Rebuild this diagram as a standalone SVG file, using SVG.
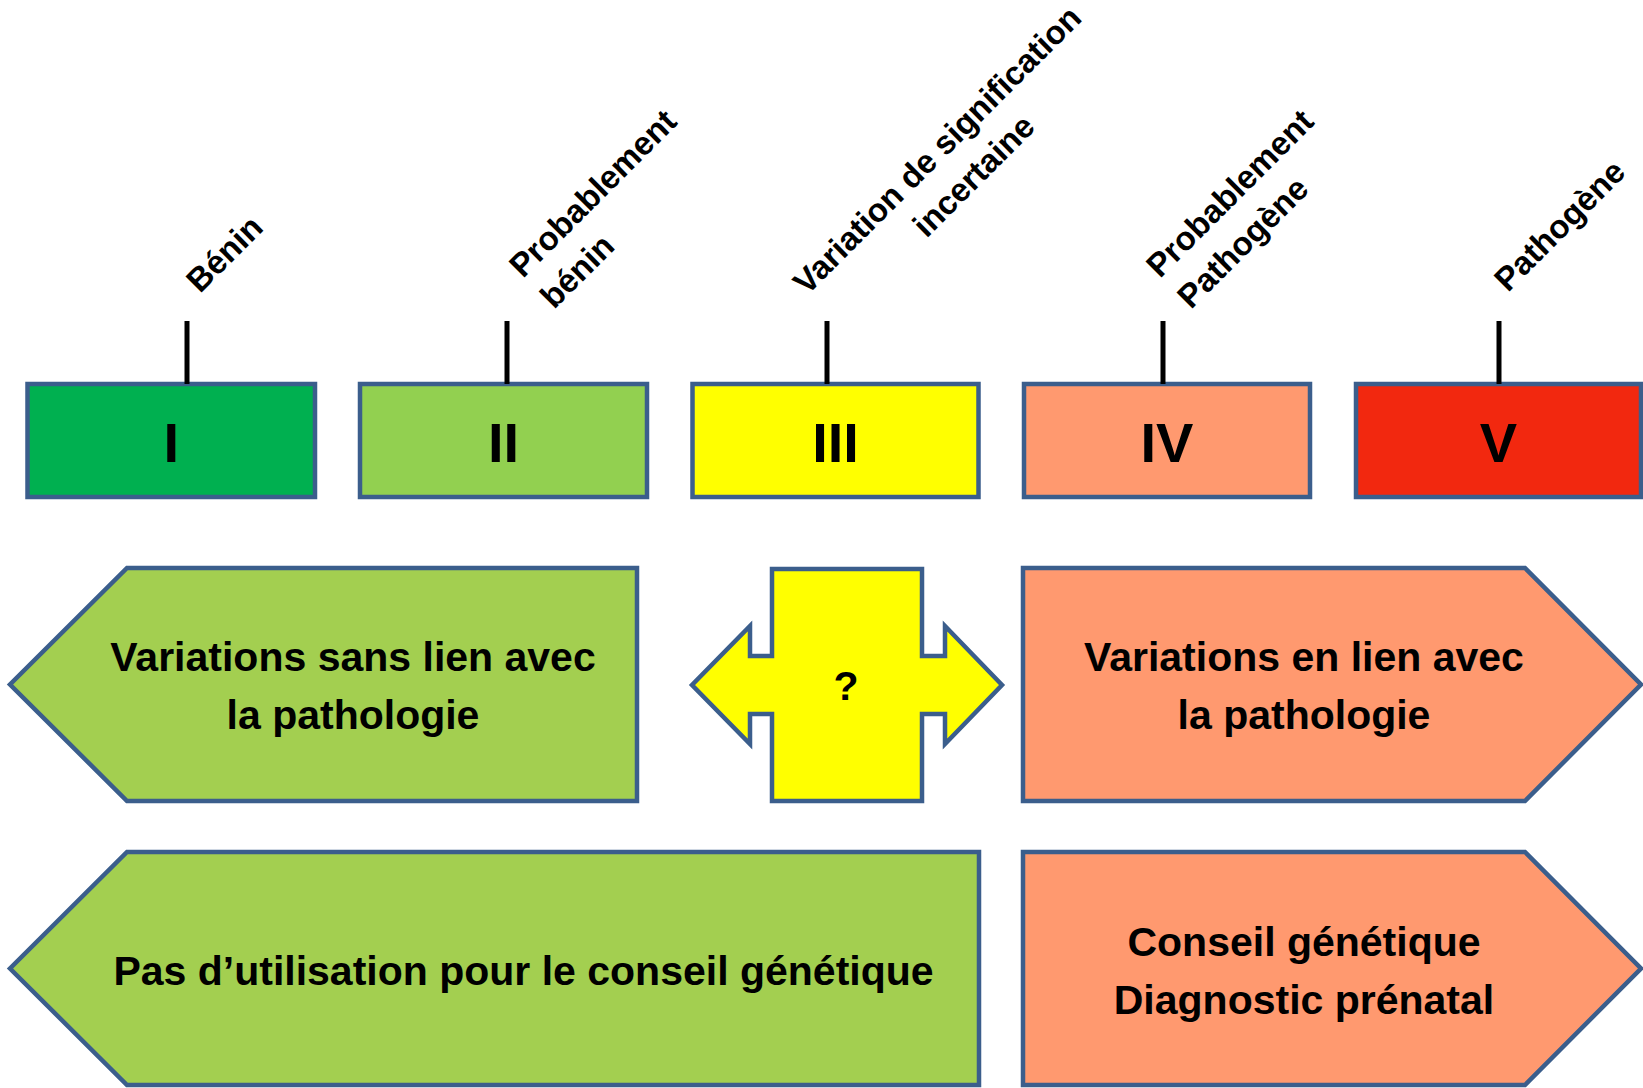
<svg xmlns="http://www.w3.org/2000/svg" width="1643" height="1088" viewBox="0 0 1643 1088">
  <style>
    .box { stroke: #3B5E8C; stroke-width: 4.5; stroke-linejoin: miter; }
    .tick { stroke: #000; stroke-width: 5; }
    .num { font-family: "Liberation Sans", Arial, sans-serif; font-weight: bold; font-size: 56px; fill: #000; text-anchor: middle; }
    .lbl { font-family: "Liberation Sans", Arial, sans-serif; font-weight: bold; font-size: 33px; fill: #000; }
    .txt { font-family: "Liberation Sans", Arial, sans-serif; font-weight: bold; font-size: 41px; fill: #000; text-anchor: middle; }
    .c1 { fill: #00B050; }
    .c2 { fill: #92D050; }
    .c3 { fill: #FFFF00; }
    .c4 { fill: #FF996F; }
    .c5 { fill: #F2280F; }
    .cg { fill: #A3CF50; }
  </style>

  <rect width="1643" height="1088" fill="#FFFFFF"/>

  <!-- class boxes with their rotated captions -->
  <g id="class-I">
    <rect class="box c1" x="27.5" y="384" width="287.5" height="113"/>
    <text class="num" x="171.25" y="462">I</text>
    <g transform="translate(200,294) rotate(-45)">
      <text class="lbl" x="0" y="0">Bénin</text>
    </g>
  </g>

  <g id="class-II">
    <rect class="box c2" x="360" y="384" width="287" height="113"/>
    <text class="num" x="503.5" y="462">II</text>
    <g transform="translate(523,279) rotate(-45)">
      <text class="lbl" x="0" y="0">Probablement</text>
      <text class="lbl" x="0" y="44">bénin</text>
    </g>
  </g>

  <g id="class-III">
    <rect class="box c3" x="692.5" y="384" width="286" height="113"/>
    <text class="num" x="835.5" y="462">III</text>
    <g transform="translate(807,296) rotate(-45)">
      <text class="lbl" x="0" y="0">Variation de signification</text>
      <text class="lbl" x="203" y="44" text-anchor="middle">incertaine</text>
    </g>
  </g>

  <g id="class-IV">
    <rect class="box c4" x="1024" y="384" width="286" height="113"/>
    <text class="num" x="1167" y="462">IV</text>
    <g transform="translate(1160,279) rotate(-45)">
      <text class="lbl" x="0" y="0">Probablement</text>
      <text class="lbl" x="0" y="44">Pathogène</text>
    </g>
  </g>

  <g id="class-V">
    <rect class="box c5" x="1356" y="384" width="285" height="113"/>
    <text class="num" x="1498.5" y="462">V</text>
    <g transform="translate(1508,293) rotate(-45)">
      <text class="lbl" x="0" y="0">Pathogène</text>
    </g>
  </g>

  <!-- caption ticks -->
  <g id="connectors">
    <line class="tick" x1="187" y1="321" x2="187" y2="384"/>
    <line class="tick" x1="507" y1="321" x2="507" y2="384"/>
    <line class="tick" x1="827" y1="321" x2="827" y2="384"/>
    <line class="tick" x1="1163" y1="321" x2="1163" y2="384"/>
    <line class="tick" x1="1499" y1="321" x2="1499" y2="384"/>
  </g>

  <!-- interpretation row -->
  <g id="benign-side">
    <polygon class="box cg" points="127,568 637,568 637,801 127,801 10,684.5"/>
    <text class="txt" x="353" y="671">Variations sans lien avec</text>
    <text class="txt" x="353" y="729">la pathologie</text>
  </g>

  <g id="uncertain">
    <polygon class="box c3" points="772,569 922,569 922,656 945,656 945,626 1002,685 945,744 945,714 922,714 922,801 772,801 772,714 750,714 750,744 692,685 750,626 750,656 772,656"/>
    <text class="txt" x="846" y="700">?</text>
  </g>

  <g id="pathogenic-side">
    <polygon class="box c4" points="1023,568 1525,568 1641,684.5 1525,801 1023,801"/>
    <text class="txt" x="1304" y="671">Variations en lien avec</text>
    <text class="txt" x="1304" y="729">la pathologie</text>
  </g>

  <!-- clinical use row -->
  <g id="no-use">
    <polygon class="box cg" points="127,852 979,852 979,1085 127,1085 10,968.5"/>
    <text class="txt" x="523.5" y="985">Pas d’utilisation pour le conseil génétique</text>
  </g>

  <g id="clinical-use">
    <polygon class="box c4" points="1023,852 1525,852 1641,968.5 1525,1085 1023,1085"/>
    <text class="txt" x="1304" y="956">Conseil génétique</text>
    <text class="txt" x="1304" y="1014">Diagnostic prénatal</text>
  </g>
</svg>
